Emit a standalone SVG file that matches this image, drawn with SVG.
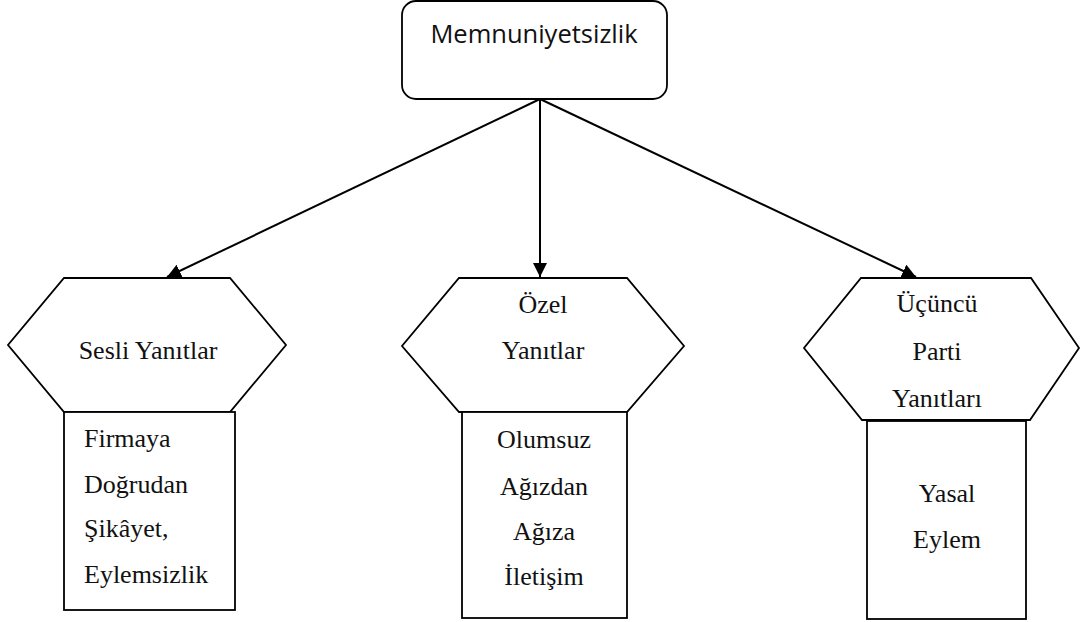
<svg xmlns="http://www.w3.org/2000/svg" width="1081" height="622" viewBox="0 0 1081 622">
<style>
.bg{fill:#fff}
.shape{fill:#fff;stroke:#000;stroke-width:1.8}
.conn{stroke:#000;stroke-width:2;fill:none}
.top{font-family:'Open Sans','Liberation Sans',sans-serif;font-size:25.5px;fill:#111}
.t{font-family:'Liberation Serif','DejaVu Serif',serif;font-size:26px;fill:#111}
.c{text-anchor:middle}
</style>
<defs>
<marker id="arr" viewBox="0 0 14 14" refX="14" refY="7" markerWidth="14" markerHeight="14" markerUnits="userSpaceOnUse" orient="auto">
<path d="M0,0 L14,7 L0,14 z" fill="#000"/>
</marker>
</defs>
<rect class="bg" x="0" y="0" width="1081" height="622"/>
<g id="connectors">
<line class="conn" x1="540" y1="99" x2="167" y2="277" marker-end="url(#arr)"/>
<line class="conn" x1="540" y1="99" x2="540" y2="277" marker-end="url(#arr)"/>
<line class="conn" x1="540" y1="99" x2="916" y2="277" marker-end="url(#arr)"/>
</g>
<g id="memnuniyetsizlik">
<rect class="shape" x="402" y="1" width="265" height="98" rx="14" ry="14"/>
<text class="top c" x="534" y="43">Memnuniyetsizlik</text>
</g>
<g id="sesli-yanitlar">
<polygon class="shape" points="64,278 230,278 286,345 230,412 64,412 8,345"/>
<text class="t c" x="148" y="359">Sesli Yanıtlar</text>
</g>
<g id="sesli-detay">
<rect class="shape" x="64" y="412" width="171" height="198"/>
<text class="t" x="84" y="447">Firmaya</text>
<text class="t" x="84" y="493">Doğrudan</text>
<text class="t" x="84" y="537">Şikâyet,</text>
<text class="t" x="84" y="583">Eylemsizlik</text>
</g>
<g id="ozel-yanitlar">
<polygon class="shape" points="459,278 627,278 684,346 627,412 459,412 402,346"/>
<text class="t c" x="543" y="313">Özel</text>
<text class="t c" x="543" y="359">Yanıtlar</text>
</g>
<g id="ozel-detay">
<rect class="shape" x="462" y="412" width="165" height="206"/>
<text class="t c" x="544" y="448">Olumsuz</text>
<text class="t c" x="544" y="495">Ağızdan</text>
<text class="t c" x="544" y="540">Ağıza</text>
<text class="t c" x="544" y="585">İletişim</text>
</g>
<g id="ucuncu-parti">
<polygon class="shape" points="861,278 1031,278 1079,348 1030,420 862,420 804,348"/>
<text class="t c" x="937" y="312">Üçüncü</text>
<text class="t c" x="937" y="360">Parti</text>
<text class="t c" x="937" y="407">Yanıtları</text>
</g>
<g id="ucuncu-detay">
<rect class="shape" x="867" y="421" width="159" height="198"/>
<text class="t c" x="947" y="502">Yasal</text>
<text class="t c" x="947" y="548">Eylem</text>
</g>
</svg>
